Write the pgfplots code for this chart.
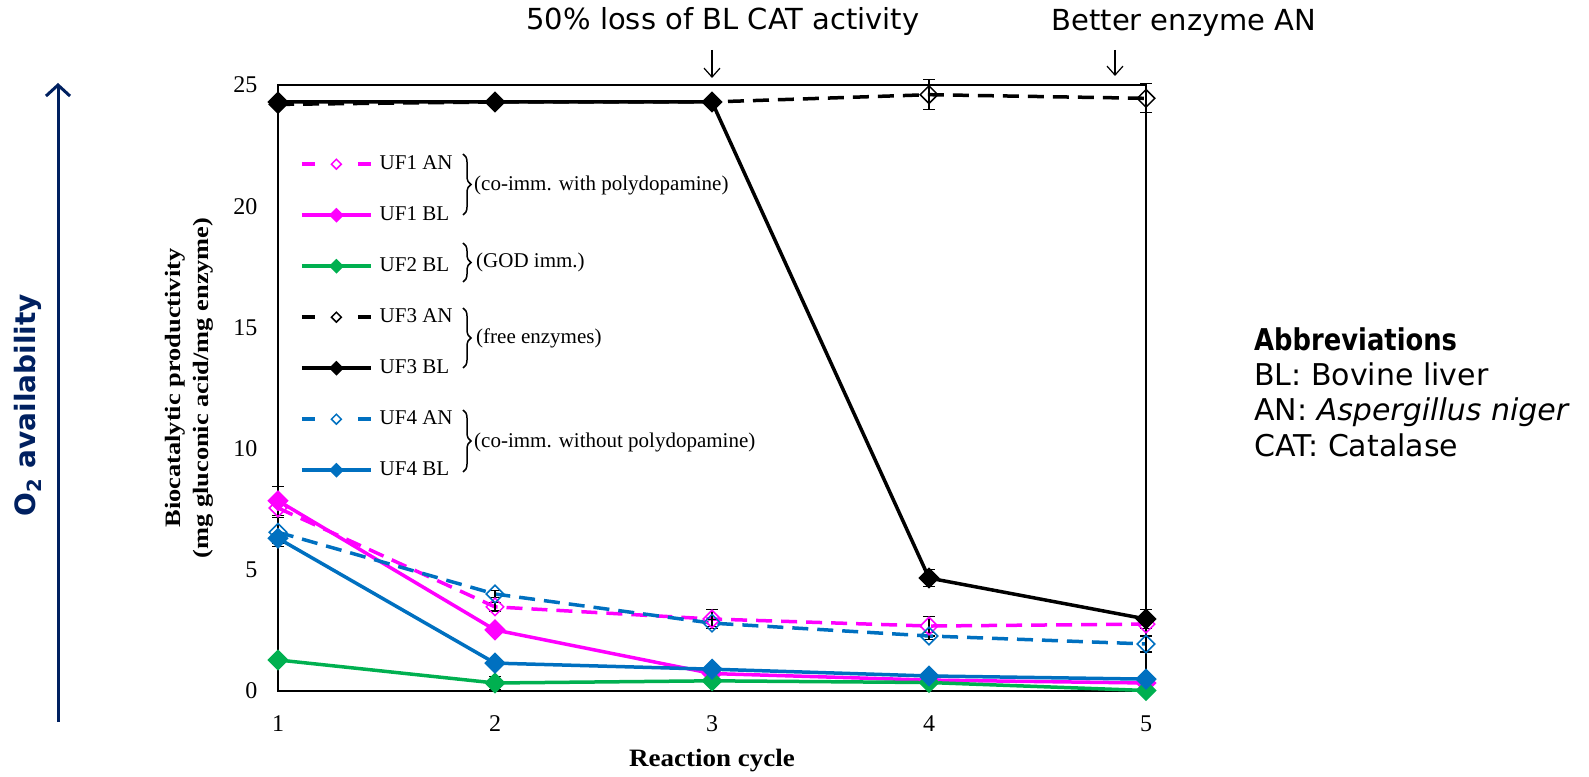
\documentclass[border=0pt]{standalone}
\usepackage{fontspec}
\setmainfont{Liberation Serif}
\newfontfamily\dvs{DejaVu Sans}
\usepackage{graphicx}
\usepackage{pgfplots}
\pgfplotsset{compat=1.18}
\usetikzlibrary{arrows.meta, decorations.pathreplacing}
\definecolor{mag}{HTML}{FF00FF}
\definecolor{grn}{HTML}{00B050}
\definecolor{blu}{HTML}{0070C0}
\definecolor{navy}{HTML}{002060}
\pgfplotsset{
  solidleg/.style={legend image code/.code={\draw[mark repeat=2,mark phase=2,mark size=3.5pt] plot coordinates {(0pt,0pt) (34.5pt,0pt) (69pt,0pt)};}},
  dashleg/.style={legend image code/.code={\draw[dash pattern=on 13pt off 43pt,mark repeat=2,mark phase=2,mark size=3.5pt] plot coordinates {(0pt,0pt) (34.5pt,0pt) (69pt,0pt)};}},
  ebs/.style={error bars/y dir=both, error bars/y explicit, error bars/error bar style={line width=1.1pt, black, solid}, error bars/error mark options={rotate=90, black, line width=1.1pt, mark size=6pt, solid}},
  solidser/.style={line width=3.5pt, mark=square*, mark size=5.8pt, mark options={solid, rotate=45}, solidleg, ebs},
  dashser/.style={line width=3.5pt, dash pattern=on 16pt off 9pt, mark=square, mark size=6.2pt, mark options={solid, rotate=45, line width=1.5pt, fill=none}, dashleg, ebs},
}
\begin{document}
\begin{tikzpicture}[x=1pt,y=1pt]
\useasboundingbox (0pt,0pt) rectangle (1589pt,776pt);
\begin{axis}[
  at={(278pt,85pt)}, anchor=south west,
  scale only axis, width=868pt, height=606pt,
  xmin=1, xmax=5, ymin=0, ymax=25,
  xtick={1,2,3,4,5}, ytick={0,5,10,15,20,25},
  major tick length=0pt,
  axis line style={line width=1.5pt},
  tick label style={font=\fontsize{24}{24}\selectfont},
  /pgf/number format/assume math mode=true,
  yticklabel style={xshift=-17pt},
  xticklabel style={yshift=-21pt},
  xlabel={\scalebox{1.08}[1]{Reaction cycle}},
  xlabel style={at={(axis description cs:0.5,-0.114)}, anchor=center, font=\bfseries\fontsize{25}{25}\selectfont},
  ylabel={\scalebox{1.2}[1]{Biocatalytic productivity}\\ \scalebox{1.2}[1]{(mg gluconic acid/mg enzyme)}},
  ylabel style={at={(axis description cs:-0.1025,0.5)}, anchor=center, align=center, font=\bfseries\fontsize{22}{28}\selectfont},
  clip=false,
  legend cell align=left,
  legend style={at={(axis description cs:0.0253,0.8845)}, anchor=north west, draw=none, fill=none, inner sep=0pt, row sep=33pt, column sep=7pt, font=\fontsize{21}{21}\selectfont, nodes={inner sep=0pt, text height=14pt, text depth=4pt}},
]
\addplot[color=mag, dashser] coordinates {(1,7.55) +- (0,0.3) (2,3.47) +- (0,0.17) (3,2.97) +- (0,0.41) (4,2.68) +- (0,0.41) (5,2.76) +- (0,0.2)};
\addlegendentry{UF1 AN}
\addplot[color=mag, solidser] coordinates {(1,7.85) +- (0,0.6) (2,2.52) +- (0,0.1) (3,0.72) +- (0,0.05) (4,0.45) +- (0,0.05) (5,0.33) +- (0,0.05)};
\addlegendentry{UF1 BL}
\addplot[color=grn, solidser] coordinates {(1,1.28) +- (0,0.1) (2,0.33) +- (0,0.27) (3,0.42) +- (0,0.05) (4,0.35) +- (0,0.05) (5,0.02) +- (0,0.02)};
\addlegendentry{UF2 BL}
\addplot[color=black, dashser] coordinates {(1,24.2) +- (0,0.1) (2,24.3) +- (0,0.1) (3,24.3) +- (0,0.1) (4,24.6) +- (0,0.62) (5,24.45) +- (0,0.6)};
\addlegendentry{UF3 AN}
\addplot[color=black, solidser] coordinates {(1,24.3) +- (0,0.1) (2,24.3) +- (0,0.1) (3,24.3) +- (0,0.1) (4,4.66) +- (0,0.36) (5,2.97) +- (0,0.4)};
\addlegendentry{UF3 BL}
\addplot[color=blu, dashser] coordinates {(1,6.55) +- (0,0.6) (2,4.0) +- (0,0.15) (3,2.8) +- (0,0.15) (4,2.27) +- (0,0.15) (5,1.94) +- (0,0.33)};
\addlegendentry{UF4 AN}
\addplot[color=blu, solidser] coordinates {(1,6.3) +- (0,0.2) (2,1.15) +- (0,0.1) (3,0.9) +- (0,0.05) (4,0.62) +- (0,0.05) (5,0.49) +- (0,0.05)};
\addlegendentry{UF4 BL}
\end{axis}
% braces and group labels of the legend
\begin{scope}[line width=1.5pt, decoration={brace, amplitude=8pt}]
\draw[decorate] (463pt,{776pt-154pt}) -- (463pt,{776pt-215pt});
\draw[decorate] (463pt,{776pt-243pt}) -- (463pt,{776pt-282pt});
\draw[decorate] (463pt,{776pt-308pt}) -- (463pt,{776pt-368pt});
\draw[decorate] (463pt,{776pt-410pt}) -- (463pt,{776pt-472pt});
\end{scope}
\begin{scope}[font=\fontsize{21}{21}\selectfont]
\node[anchor=west, inner sep=0pt] at (474pt,{776pt-185pt}) {(co-imm. with polydopamine)};
\node[anchor=west, inner sep=0pt] at (476pt,{776pt-262pt}) {(GOD imm.)};
\node[anchor=west, inner sep=0pt] at (476pt,{776pt-338pt}) {(free enzymes)};
\node[anchor=west, inner sep=0pt] at (474pt,{776pt-442pt}) {(co-imm. without polydopamine)};
\end{scope}
% top annotations
\node[anchor=base, inner sep=0pt, font=\dvs\fontsize{29}{29}\selectfont] at (723pt,{776pt-30pt}) {50\% loss of BL CAT activity};
\node[anchor=base, inner sep=0pt, font=\dvs\fontsize{29}{29}\selectfont] at (1184pt,{776pt-31pt}) {Better enzyme AN};
\draw[line width=1.2pt, -{Straight Barb[length=9pt,width=16pt]}] (712pt,{776pt-50pt}) -- (712pt,{776pt-78pt});
\draw[line width=1.2pt, -{Straight Barb[length=9pt,width=16pt]}] (1115pt,{776pt-50pt}) -- (1115pt,{776pt-76pt});
% abbreviations
\begin{scope}[every node/.style={anchor=base west, inner sep=0pt, font=\dvs\fontsize{30}{30}\selectfont}]
\node at (1254pt,{776pt-351pt}) {\scalebox{0.86}[1]{\textbf{Abbreviations}}};
\node at (1254pt,{776pt-386pt}) {BL: Bovine liver};
\node at (1254pt,{776pt-421pt}) {AN: \textit{Aspergillus niger}};
\node at (1254pt,{776pt-457pt}) {CAT: Catalase};
\end{scope}
% O2 availability arrow
\draw[line width=3pt, navy, -{Straight Barb[length=11pt,width=24pt,line width=3pt]}] (58pt,{776pt-722pt}) -- (58pt,{776pt-83pt});
\node[rotate=90, text=navy, font=\dvs\bfseries\fontsize{28}{28}\selectfont] at (28pt,{776pt-405pt}) {O\textsubscript{2} availability};
\end{tikzpicture}
\end{document}
